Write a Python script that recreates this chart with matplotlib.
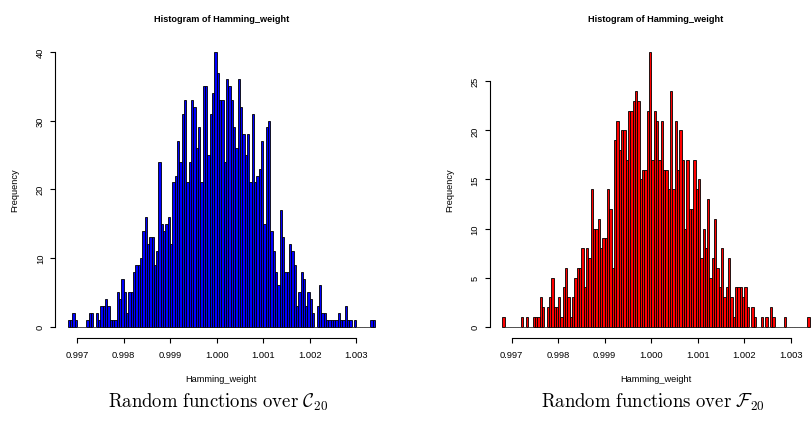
import numpy as np
import matplotlib.pyplot as plt

plt.rcParams['font.family'] = ['Liberation Sans', 'DejaVu Sans']
plt.rcParams['mathtext.fontset'] = 'cm'

# histogram bins (same breaks for both panels)
bin_start = 0.9968
bin_width = 0.00005

# counts per bin, read left to right
counts_c20 = [1, 1, 2, 1, 0, 0, 0, 0, 1, 2, 2, 0, 2, 1, 3, 3, 4, 3, 1, 1,
              1, 5, 4, 7, 5, 2, 5, 5, 8, 9, 9, 10, 14, 16, 12, 13, 13, 9, 11, 24,
              15, 14, 15, 16, 12, 21, 22, 27, 24, 31, 33, 21, 24, 33, 32, 26, 29, 21, 35, 35,
              25, 31, 34, 40, 37, 33, 33, 24, 36, 35, 33, 29, 26, 36, 32, 28, 25, 28, 21, 31,
              21, 22, 23, 27, 15, 29, 30, 14, 11, 8, 6, 17, 13, 8, 8, 12, 11, 9, 3, 5,
              8, 7, 3, 5, 4, 2, 0, 3, 6, 2, 2, 1, 1, 1, 1, 1, 2, 1, 1, 3,
              1, 1, 0, 1, 0, 0, 0, 0, 0, 0, 1, 1]

counts_f20 = [1, 0, 0, 0, 0, 0, 0, 0, 1, 0, 1, 0, 0, 1, 1, 1, 3, 2, 0, 2,
              3, 5, 2, 2, 3, 1, 4, 6, 3, 1, 3, 5, 6, 6, 8, 4, 8, 7, 14, 10,
              10, 11, 8, 9, 9, 14, 12, 6, 19, 21, 18, 20, 20, 17, 22, 22, 23, 24, 23, 15,
              16, 16, 22, 28, 17, 22, 21, 17, 21, 16, 16, 14, 24, 14, 21, 16, 20, 17, 10, 17,
              12, 12, 17, 14, 15, 7, 10, 8, 13, 5, 7, 11, 6, 4, 8, 3, 4, 7, 3, 1,
              4, 4, 4, 3, 4, 2, 0, 2, 1, 0, 0, 1, 0, 1, 0, 2, 1, 0, 0, 0,
              0, 1, 0, 0, 0, 0, 0, 0, 0, 0, 0, 1]

x_ticks = [0.997, 0.998, 0.999, 1.000, 1.001, 1.002, 1.003]
x_ticklabels = ['0.997', '0.998', '0.999', '1.000', '1.001', '1.002', '1.003']
yticks_c20 = [0, 10, 20, 30, 40]
yticks_f20 = [0, 5, 10, 15, 20, 25]

W, H = 811, 427
fig = plt.figure(figsize=(W / 100, H / 100), dpi=100)


def px_axes(left, top, width, height):
    return fig.add_axes([left / W, 1 - (top + height) / H, width / W, height / H])


def r_hist(ax, counts, color, yticks):
    counts = np.asarray(counts)
    edges = bin_start + bin_width * np.arange(len(counts) + 1)
    # empty bins show up as a flat line on the baseline, like R does
    empty = counts == 0
    ax.hlines(np.zeros(empty.sum()), edges[:-1][empty], edges[1:][empty],
              color='#555555', linewidth=0.7)
    ax.bar(edges[:-1], counts, width=bin_width, align='edge', color=color,
           edgecolor='black', linewidth=0.6)
    lo, hi = edges[0], edges[-1]
    pad = 0.04 * (hi - lo)
    ax.set_xlim(lo - pad, hi + pad)
    ymax = counts.max()
    ax.set_ylim(-0.04 * ymax, 1.04 * ymax)
    for s in ['top', 'right']:
        ax.spines[s].set_visible(False)
    ax.spines['left'].set_bounds(yticks[0], yticks[-1])
    ax.spines['bottom'].set_bounds(x_ticks[0], x_ticks[-1])
    for s in ['left', 'bottom']:
        ax.spines[s].set_linewidth(0.8)
    ax.set_xticks(x_ticks)
    ax.set_xticklabels(x_ticklabels)
    ax.set_yticks(yticks)
    ax.set_yticklabels([str(v) for v in yticks], rotation=90, va='center')
    ax.tick_params(axis='x', length=3.6, width=0.8, labelsize=6.7, pad=5)
    ax.tick_params(axis='y', length=3.6, width=0.8, labelsize=6.7, pad=4)


panels = [
    (55.4, counts_c20, 'blue', yticks_c20, r'$\mathrm{Random\ functions\ over\ }\mathcal{C}_{20}$'),
    (490.0, counts_f20, 'red', yticks_f20, r'$\mathrm{Random\ functions\ over\ }\mathcal{F}_{20}$'),
]

for left, counts, color, yticks, caption in panels:
    ax = px_axes(left, 41.9, 331.9, 296.8)
    r_hist(ax, counts, color, yticks)
    cx = left + 331.9 / 2
    fig.text(cx / W, 1 - 19 / H, 'Histogram of Hamming_weight', ha='center', va='center',
             fontsize=6.6, fontweight='bold')
    fig.text(cx / W, 1 - 380 / H, 'Hamming_weight', ha='center', va='center', fontsize=6.7)
    fig.text((left - 40.4) / W, 1 - 190 / H, 'Frequency', ha='center', va='center',
             rotation=90, fontsize=6.7)
    fig.text((cx - 3) / W, 1 - 402 / H, caption, ha='center', va='center', fontsize=13.5)

fig.savefig('out.png', dpi=100)
